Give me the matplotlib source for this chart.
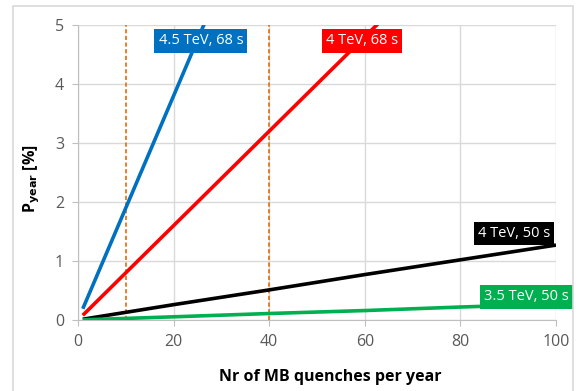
import matplotlib.pyplot as plt
from matplotlib.patches import Rectangle

# Probability of a quench-induced event per year vs number of MB quenches
quenches_blue = [1, 10, 20, 30]
p_blue = [0.19, 1.9, 3.8, 5.7]

quenches_red = [1, 10, 20, 30, 40, 50, 60, 70]
p_red = [0.08, 0.8, 1.6, 2.4, 3.2, 4.0, 4.8, 5.6]

quenches_black = [1, 10, 20, 40, 60, 80, 100]
p_black = [0.013, 0.13, 0.26, 0.51, 0.77, 1.02, 1.27]

quenches_green = [1, 10, 20, 40, 60, 80, 100]
p_green = [0.003, 0.027, 0.054, 0.11, 0.16, 0.22, 0.27]

labels = ["4.5 TeV, 68 s", "4 TeV, 68 s", "4 TeV, 50 s", "3.5 TeV, 50 s"]
colors = ["#0070C0", "#FF0000", "#000000", "#00B050"]
label_pos = [(25.7, 4.73), (59.4, 4.73), (91.2, 1.47), (93.9, 0.39)]

markers_x = [10, 40]

plt.rcParams['font.family'] = ['Open Sans', 'DejaVu Sans']

fig = plt.figure(figsize=(5.88, 3.91), dpi=100)
ax = fig.add_axes([78 / 588, 1 - 320 / 391, 478 / 588, 295 / 391])

# outer chart frame
fig.patches.append(Rectangle((13 / 588, -0.01), 560 / 588, 1 - 6 / 391 + 0.01,
                             transform=fig.transFigure, fill=False,
                             edgecolor="#D9D9D9", linewidth=1.2))

series = [(quenches_blue, p_blue), (quenches_red, p_red),
          (quenches_black, p_black), (quenches_green, p_green)]
for (x, y), c in zip(series, colors):
    ax.plot(x, y, color=c, linewidth=2.6, solid_capstyle="butt", zorder=3)

for xv in markers_x:
    ax.plot([xv, xv], [0, 5], color="#E36C09", linewidth=1.2,
            dashes=(2.5, 1.5), zorder=2)

for text, c, (lx, ly) in zip(labels, colors, label_pos):
    ax.text(lx, ly, text, color="white", fontsize=10.5, ha="center", va="center",
            zorder=5, clip_on=False,
            bbox=dict(boxstyle="square,pad=0.28", facecolor=c, edgecolor="none"))

ax.set_xlim(0, 100)
ax.set_ylim(0, 5)
ax.set_xticks([0, 20, 40, 60, 80, 100])
ax.set_yticks([0, 1, 2, 3, 4, 5])
ax.grid(True, color="#D9D9D9", linewidth=1)
ax.set_axisbelow(True)
for s in ["top", "right"]:
    ax.spines[s].set_visible(False)
for s in ["left", "bottom"]:
    ax.spines[s].set_color("#BFBFBF")
ax.tick_params(colors="#BFBFBF", labelcolor="#595959", labelsize=11.5,
               length=4, direction="out", pad=6)

ax.set_xlabel("Nr of MB quenches per year", fontsize=11.5, fontweight="bold")
ax.xaxis.set_label_coords(0.527, -0.165)
ax.set_ylabel(r"P$_{\mathbf{year}}$ [%]", fontsize=11.5, fontweight="bold")
ax.yaxis.set_label_coords(-0.075, 0.48)

fig.savefig("out.png", dpi=100)
